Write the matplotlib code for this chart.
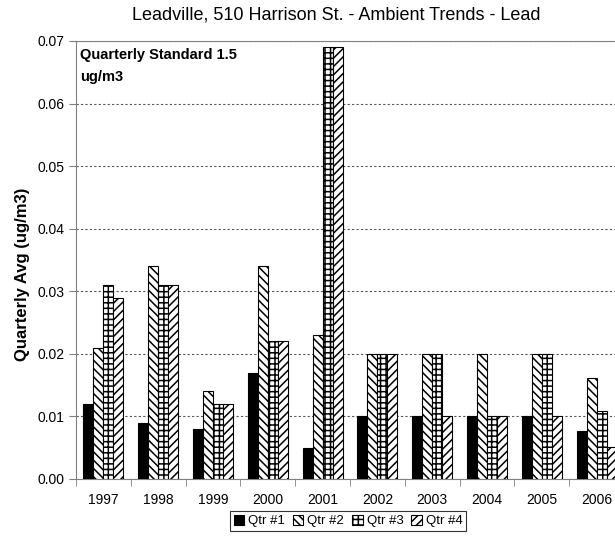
import matplotlib.pyplot as plt
from matplotlib import font_manager
import numpy as np

# data
years = ['1997', '1998', '1999', '2000', '2001', '2002', '2003', '2004', '2005', '2006']
qtr1 = [0.012, 0.009, 0.008, 0.017, 0.005, 0.010, 0.010, 0.010, 0.010, 0.0076]
qtr2 = [0.021, 0.034, 0.014, 0.034, 0.023, 0.020, 0.020, 0.020, 0.020, 0.0161]
qtr3 = [0.031, 0.031, 0.012, 0.022, 0.069, 0.020, 0.020, 0.010, 0.020, 0.0109]
qtr4 = [0.029, 0.031, 0.012, 0.022, 0.069, 0.020, 0.010, 0.010, 0.010, 0.0051]
labels = ['Qtr #1', 'Qtr #2', 'Qtr #3', 'Qtr #4']

plt.rcParams['font.family'] = ['Liberation Sans', 'DejaVu Sans']
plt.rcParams['hatch.linewidth'] = 1.1

fig = plt.figure(figsize=(6.15, 5.52), dpi=100)
ax = fig.add_axes([76 / 615, 73 / 552, 548 / 615, 438 / 552])

x = np.arange(len(years))
w = 0.1825
series = [qtr1, qtr2, qtr3, qtr4]
hatches = [None, '\\\\\\\\', '+++', '////']
for i, (vals, h, lab) in enumerate(zip(series, hatches, labels)):
    fc = 'black' if i == 0 else 'white'
    ax.bar(x + (i - 1.5) * w, vals, w, color=fc, edgecolor='black',
           hatch=h, linewidth=0.8, label=lab, zorder=3)

ax.set_xlim(-0.5, len(years) - 0.5)
ax.set_ylim(0, 0.07)
ax.set_yticks(np.arange(0, 0.071, 0.01))
ax.set_yticklabels(['%.2f' % v for v in np.arange(0, 0.071, 0.01)], fontsize=10)
ax.set_xticks(x)
ax.set_xticklabels(years, fontsize=10)
ax.set_xticks(np.arange(-0.5, len(years)), minor=True)
ax.tick_params(axis='x', which='major', length=0, pad=10)
ax.tick_params(axis='x', which='minor', length=5, color='gray')
ax.tick_params(axis='y', length=5, color='gray')

ax.yaxis.grid(True, linestyle=(0, (2, 2)), color='#555555', linewidth=0.8, zorder=0)
for s in ['left', 'bottom', 'top']:
    ax.spines[s].set_color('gray')
ax.spines['right'].set_visible(False)

ax.set_ylabel('Quarterly Avg (ug/m3)', fontsize=12, fontweight='bold')
ax.yaxis.set_label_coords((30 - 76) / 548, (479 - 274) / 438)
fig.text(336 / 615, 1 - 15 / 552, 'Leadville, 510 Harrison St. - Ambient Trends - Lead',
         ha='center', va='center', fontsize=13)

names = {f.name for f in font_manager.fontManager.ttflist}
if 'Liberation Sans Narrow' in names:
    note_family, note_size = 'Liberation Sans Narrow', 12
else:
    note_family, note_size = 'Liberation Sans', 10.5
ax.text(0.008, 0.985, 'Quarterly Standard 1.5\nug/m3', transform=ax.transAxes,
        ha='left', va='top', fontsize=note_size, fontweight='bold', linespacing=1.75,
        family=[note_family, 'DejaVu Sans'])

leg = fig.legend(loc='center', bbox_to_anchor=(348 / 615, 1 - 521 / 552), ncol=4,
                 fontsize=9.5, frameon=True, fancybox=False, edgecolor='black',
                 handlelength=0.8, handleheight=0.8, handletextpad=0.3,
                 columnspacing=0.6, borderpad=0.3)
leg.get_frame().set_linewidth(0.8)

plt.savefig('out.png', dpi=100)
plt.close()
